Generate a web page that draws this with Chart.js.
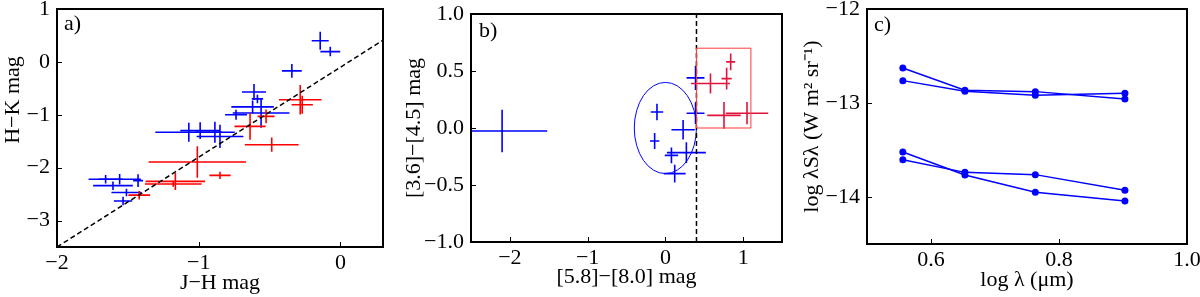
<!DOCTYPE html>
<html><head><meta charset="utf-8">
<script src="https://cdn.jsdelivr.net/npm/chart.js@4.4.1/dist/chart.umd.min.js"></script>
<style>
body{margin:0;background:#fff;width:1200px;height:297px;position:relative;overflow:hidden}
.p{position:absolute;top:0;width:400px;height:297px}
</style></head>
<body>
<div class="p" style="left:0"><canvas id="ca" width="400" height="297"></canvas></div>
<div class="p" style="left:400px"><canvas id="cb" width="400" height="297"></canvas></div>
<div class="p" style="left:800px"><canvas id="cc" width="400" height="297"></canvas></div>
<script>
// ---------- Panel a data ----------
const aBlueX    = [-0.143, -0.072, -0.343, -0.61, -0.586, -0.62, -0.56, -0.737, -1.07, -0.99, -0.886, -0.85, -1.657, -1.558, -1.428, -1.605, -1.51, -1.534];
const aBlueY    = [0.40, 0.195, -0.17, -0.57, -0.70, -0.85, -0.965, -1.0, -1.33, -1.30, -1.33, -1.41, -2.22, -2.22, -2.245, -2.34, -2.47, -2.63];
const aBlueXErr = [0.06, 0.07, 0.07, 0.085, 0.04, 0.15, 0.2, 0.077, 0.236, 0.14, 0.14, 0.165, 0.12, 0.15, 0.035, 0.14, 0.106, 0.065];
const aBlueYErr = [0.17, 0.09, 0.13, 0.15, 0.08, 0.12, 0.28, 0.095, 0.18, 0.16, 0.2, 0.22, 0.08, 0.1, 0.12, 0.08, 0.07, 0.08];
const aRedX     = [-0.284, -0.27, -0.525, -0.638, -0.485, -1.01, -0.85, -1.165, -1.18, -1.42];
const aRedY     = [-0.717, -0.81, -1.03, -1.22, -1.566, -1.893, -2.145, -2.26, -2.31, -2.52];
const aRedXErr  = [0.15, 0.075, 0.06, 0.11, 0.19, 0.344, 0.075, 0.21, 0.2, 0.077];
const aRedYErr  = [0.28, 0.17, 0.13, 0.25, 0.135, 0.3, 0.07, 0.16, 0.05, 0.08];
const aFitX = [-2, 0.3];
const aFitY = [-3.5, 0.41];
const aXTicks = [-2, -1, 0];
const aYTicks = [1, 0, -1, -2, -3];

// ---------- Panel b data ----------
const bBlueX    = [-2.10, -0.108, -0.138, 0.228, 0.078, 0.27, 0.12, 0.388, 0.388];
const bBlueY    = [-0.026, 0.14, -0.114, -0.015, -0.24, -0.216, -0.40, 0.44, 0.13];
const bBlueXErr = [0.58, 0.08, 0.06, 0.15, 0.086, 0.25, 0.14, 0.115, 0.115];
const bBlueYErr = [0.187, 0.073, 0.07, 0.085, 0.07, 0.09, 0.077, 0.107, 0.095];
const bRedX     = [0.84, 0.788, 0.58, 0.754, 1.05];
const bRedY     = [0.58, 0.433, 0.39, 0.111, 0.13];
const bRedXErr  = [0.058, 0.065, 0.25, 0.215, 0.273];
const bRedYErr  = [0.073, 0.095, 0.088, 0.117, 0.098];
const bVLineX = [0.4, 0.4];
const bVLineY = [-1, 1];
const bRectX = [0.4, 1.1, 1.1, 0.4, 0.4];
const bRectY = [0, 0, 0.7, 0.7, 0];
const bEllipseCenter = [0, 0];
const bEllipseRadius = [0.4, 0.4];
const bXTicks = [-2, -1, 0, 1];
const bYTicks = [-1, -0.5, 0, 0.5, 1];

// ---------- Panel c data ----------
const cX  = [0.556, 0.653, 0.763, 0.903];
const cS1 = [-12.628, -12.865, -12.879, -12.957];
const cS2 = [-12.762, -12.876, -12.918, -12.897];
const cS3 = [-13.521, -13.766, -13.95, -14.043];
const cS4 = [-13.603, -13.738, -13.762, -13.929];
const cXTicks = [0.6, 0.8, 1.0];
const cYTicks = [-12, -13, -14];

// ---------- helpers ----------
const FONT = 'Liberation Serif';
const FS = 22;
const pts = (xs, ys) => xs.map((x, i) => ({x, y: ys[i]}));
const fmt = d => v => (v < 0 ? '\u2212' : '') + Math.abs(v).toFixed(d);

const errorBars = {
  id: 'errorBars',
  beforeDatasetsDraw(chart) {
    const {ctx, chartArea: a, scales: {x, y}} = chart;
    ctx.save();
    ctx.beginPath(); ctx.rect(a.left, a.top, a.width, a.height); ctx.clip();
    const el = chart.options.plugins.errorBars && chart.options.plugins.errorBars.ellipse;
    if (el) {
      const cx = x.getPixelForValue(el.c[0]), cy = y.getPixelForValue(el.c[1]);
      const rx = Math.abs(x.getPixelForValue(el.c[0] + el.r[0]) - cx);
      const ry = Math.abs(y.getPixelForValue(el.c[1] + el.r[1]) - cy);
      ctx.beginPath(); ctx.ellipse(cx, cy, rx, ry, 0, 0, Math.PI * 2);
      ctx.strokeStyle = el.color; ctx.lineWidth = 1; ctx.stroke();
    }
    chart.data.datasets.forEach(ds => {
      if (!ds.errX) return;
      ctx.strokeStyle = ds.borderColor; ctx.lineWidth = 1.6;
      ds.data.forEach((p, j) => {
        const ex = ds.errX[j], ey = ds.errY[j];
        ctx.beginPath();
        ctx.moveTo(x.getPixelForValue(p.x - ex), y.getPixelForValue(p.y));
        ctx.lineTo(x.getPixelForValue(p.x + ex), y.getPixelForValue(p.y));
        ctx.moveTo(x.getPixelForValue(p.x), y.getPixelForValue(p.y - ey));
        ctx.lineTo(x.getPixelForValue(p.x), y.getPixelForValue(p.y + ey));
        ctx.stroke();
      });
    });
    ctx.restore();
  }
};

const frame = {
  id: 'frame',
  afterDraw(chart) {
    const {ctx, chartArea: a, scales: {x, y}} = chart;
    const o = chart.options.plugins.frame;
    ctx.save();
    ctx.strokeStyle = '#000'; ctx.lineWidth = 1;
    const L = 5;
    x.ticks.forEach(t => {
      const px = Math.round(x.getPixelForValue(t.value)) + 0.5;
      ctx.beginPath(); ctx.moveTo(px, a.bottom); ctx.lineTo(px, a.bottom - L); ctx.stroke();
    });
    y.ticks.forEach(t => {
      const py = Math.round(y.getPixelForValue(t.value)) + 0.5;
      ctx.beginPath(); ctx.moveTo(a.left, py); ctx.lineTo(a.left + L, py); ctx.stroke();
    });
    ctx.lineWidth = 2;
    ctx.strokeRect(a.left, a.top, a.width, a.height);
    ctx.fillStyle = '#000';
    ctx.font = FS + 'px "' + FONT + '"';
    ctx.textBaseline = 'top';
    ctx.fillText(o.label, a.left + o.dx, a.top + o.dy);
    if (o.yTitle) {
      ctx.translate(o.yTitle.x, o.yTitle.y);
      ctx.rotate(-Math.PI / 2);
      ctx.textAlign = 'center'; ctx.textBaseline = 'middle';
      ctx.fillText(o.yTitle.text, 0, 0);
    }
    ctx.restore();
  }
};

function axis(min, max, ticks, dec, title, size, titlePad, tickPad, horizontal) {
  return {
    type: 'linear', min, max,
    afterBuildTicks: s => { s.ticks = ticks.map(v => ({value: v})); },
    afterFit: s => {
      if (horizontal) s.height = size; else s.width = size;
      s.paddingLeft = s.paddingRight = s.paddingTop = s.paddingBottom = 0;
    },
    grid: {display: false, drawTicks: false},
    border: {display: false},
    ticks: {color: '#000', font: {family: FONT, size: FS}, padding: tickPad, callback: fmt(dec), maxRotation: 0, autoSkip: false},
    title: {display: !!title, text: title, color: '#000', font: {family: FONT, size: FS, lineHeight: 1}, padding: titlePad}
  };
}

function makeChart(id, datasets, opts) {
  return new Chart(document.getElementById(id), {
    type: 'scatter',
    data: {datasets},
    options: {
      responsive: false, animation: false, devicePixelRatio: 1,
      layout: {padding: opts.padding},
      plugins: {legend: {display: false}, tooltip: {enabled: false},
        frame: opts.frame, errorBars: opts.errorBars || {}},
      scales: {x: opts.x, y: opts.y}
    },
    plugins: [errorBars, frame]
  });
}

const crossDs = (xs, ys, ex, ey, color) => ({
  data: pts(xs, ys), errX: ex, errY: ey, borderColor: color, backgroundColor: color,
  pointRadius: 0, showLine: false
});

// Panel a
makeChart('ca', [
  crossDs(aBlueX, aBlueY, aBlueXErr, aBlueYErr, '#0000ff'),
  crossDs(aRedX, aRedY, aRedXErr, aRedYErr, '#ff0000'),
  {data: pts(aFitX, aFitY), showLine: true, borderColor: '#000', borderWidth: 1.5, borderDash: [5, 3], pointRadius: 0}
], {
  padding: {top: 9, right: 17, left: 0, bottom: 0},
  frame: {label: 'a)', dx: 7, dy: 4, yTitle: {text: 'H\u2212K mag', x: 13, y: 100}},
  x: axis(-2, 0.3, aXTicks, 0, 'J\u2212H mag', 50, {top: 0, bottom: 3}, 3, true),
  y: axis(-3.5, 1, aYTicks, 0, '', 57, {top: 2, bottom: 0}, 7, false)
});

// Panel b
makeChart('cb', [
  crossDs(bBlueX, bBlueY, bBlueXErr, bBlueYErr, '#0000ff'),
  crossDs(bRedX, bRedY, bRedXErr, bRedYErr, '#e0143c'),
  {data: pts(bRectX, bRectY), showLine: true, borderColor: '#ff3b3b', borderWidth: 1, pointRadius: 0},
  {data: pts(bVLineX, bVLineY), showLine: true, borderColor: '#000', borderWidth: 1.5, borderDash: [5, 3], pointRadius: 0}
], {
  padding: {top: 14, right: 18, left: 0, bottom: 0},
  frame: {label: 'b)', dx: 8, dy: 6},
  errorBars: {ellipse: {c: bEllipseCenter, r: bEllipseRadius, color: '#0000ff'}},
  x: axis(-2.5, 1.5, bXTicks, 0, '[5.8]\u2212[8.0] mag', 55, {top: 0, bottom: 9}, 3, true),
  y: axis(-1, 1, bYTicks, 1, '[3.6]\u2212[4.5] mag', 71, {top: 3, bottom: 0}, 7, false)
});

// Panel c
const lineDs = ys => ({data: pts(cX, ys), showLine: true, borderColor: '#0000ff', backgroundColor: '#0000ff',
  borderWidth: 1.5, pointRadius: 3.5, pointBorderWidth: 0});
makeChart('cc', [lineDs(cS1), lineDs(cS2), lineDs(cS3), lineDs(cS4)], {
  padding: {top: 9, right: 13, left: 0, bottom: 0},
  frame: {label: 'c)', dx: 7, dy: 5},
  x: axis(0.5, 1.0, cXTicks, 1, 'log \u03bb (\u03bcm)', 53, {top: 0, bottom: 6}, 3, true),
  y: axis(-14.5, -12, cYTicks, 0, 'log \u03bbS\u03bb (W m\u00b2 sr\u207b\u00b9)', 67, {top: 1, bottom: 0}, 7, false)
});
</script>
</body></html>
